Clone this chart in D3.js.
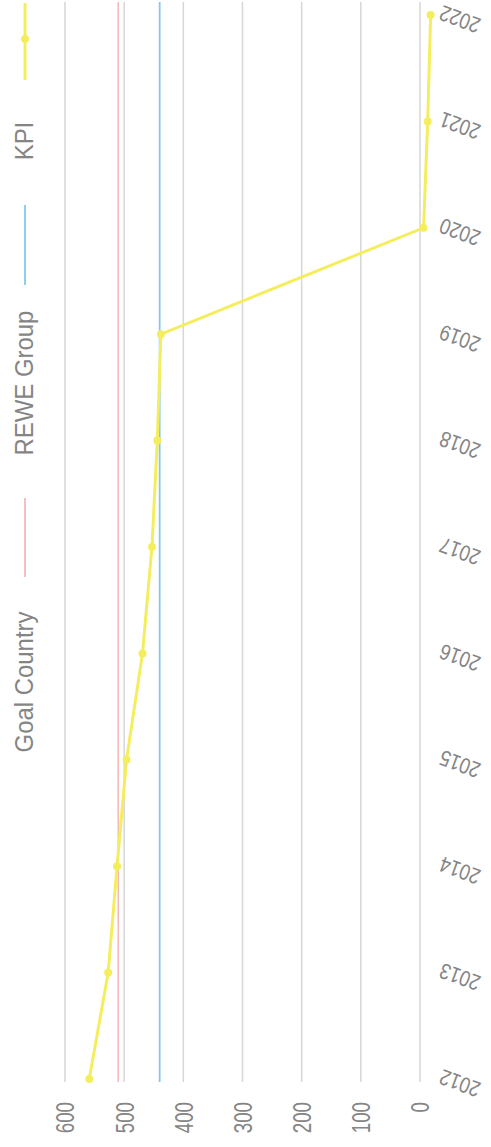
<!DOCTYPE html>
<html>
<head>
<meta charset="utf-8">
<script src="https://cdn.jsdelivr.net/npm/d3@7"></script>
<style>
  html, body { margin: 0; padding: 0; background: #fff; }
  svg { display: block; }
  text { font-family: "Liberation Sans", Arial, sans-serif; fill: #858585; }
</style>
</head>
<body>
<script>
// chart data (the page is printed sideways, so years run bottom -> top)
var years = [2012, 2013, 2014, 2015, 2016, 2017, 2018, 2019, 2020, 2021, 2022];
var kpiValues = [559, 527, 512, 496, 469, 453, 444, 438, -6, -13, -18];
var reweGroupValue = 440;
var goalCountryValue = 510;
var valueTicks = [0, 100, 200, 300, 400, 500, 600];
var legendNames = ["KPI", "REWE Group", "Goal Country"];

var width = 491, height = 1147;
var colors = { kpi: "#f4ee5e", rewe: "#86c8ec", goal: "#f3b9b6" };

var svg = d3.select("body").append("svg")
    .attr("width", width)
    .attr("height", height);

var x = d3.scaleLinear().domain([0, 600]).range([420, 65]);
var y = d3.scalePoint().domain(years).range([1079, 15]);

var plotTop = 2, plotBottom = 1082;

// grid
svg.append("g").selectAll("line")
    .data(valueTicks)
    .enter().append("line")
    .attr("x1", function(d){ return x(d); })
    .attr("x2", function(d){ return x(d); })
    .attr("y1", plotTop)
    .attr("y2", plotBottom)
    .style("stroke", "#d6d6d6")
    .style("stroke-width", 1.5);

// value labels (condensed look -> squeeze along reading direction)
svg.append("g").selectAll("text")
    .data(valueTicks)
    .enter().append("text")
    .attr("transform", function(d){ return "translate(" + x(d) + ",1102) rotate(-90) scale(0.72,1)"; })
    .attr("text-anchor", "end")
    .attr("dy", "0.36em")
    .style("font-size", "26px")
    .text(function(d){ return d; });

// year labels (upside down, slanted)
svg.append("g").selectAll("text")
    .data(years)
    .enter().append("text")
    .attr("transform", function(d){ return "translate(443," + (y(d) - 10) + ") rotate(200) scale(0.85,1)"; })
    .attr("text-anchor", "end")
    .style("font-size", "22px")
    .text(function(d){ return d; });

// reference lines
svg.append("line")
    .attr("x1", x(goalCountryValue)).attr("x2", x(goalCountryValue))
    .attr("y1", plotTop).attr("y2", plotBottom)
    .style("stroke", colors.goal).style("stroke-width", 1.5);

svg.append("line")
    .attr("x1", x(reweGroupValue)).attr("x2", x(reweGroupValue))
    .attr("y1", plotTop).attr("y2", plotBottom)
    .style("stroke", colors.rewe).style("stroke-width", 1.8);

// KPI line
var kpiData = years.map(function(yr, i){ return { year: yr, value: kpiValues[i] }; });
var line = d3.line()
    .x(function(d){ return x(d.value); })
    .y(function(d){ return y(d.year); });

svg.append("path")
    .datum(kpiData)
    .attr("d", line)
    .style("fill", "none")
    .style("stroke", colors.kpi)
    .style("stroke-width", 3);

svg.append("g").selectAll("circle")
    .data(kpiData)
    .enter().append("circle")
    .attr("cx", function(d){ return x(d.value); })
    .attr("cy", function(d){ return y(d.year); })
    .attr("r", 4)
    .style("fill", colors.kpi);

// legend (top to bottom: KPI, REWE Group, Goal Country)
var legendSymbols = [
    { y1: 3, y2: 80, color: colors.kpi, dot: 39 },
    { y1: 205, y2: 285, color: colors.rewe },
    { y1: 498, y2: 577, color: colors.goal }
];
var legendText = [141, 383, 682];

var lg = svg.append("g");
legendSymbols.forEach(function(s, i){
    lg.append("line")
        .attr("x1", 25).attr("x2", 25)
        .attr("y1", s.y1).attr("y2", s.y2)
        .style("stroke", s.color)
        .style("stroke-width", i == 0 ? 3 : 1.8);
    if (s.dot) {
        lg.append("circle").attr("cx", 25).attr("cy", s.dot).attr("r", 4).style("fill", s.color);
    }
    lg.append("text")
        .attr("transform", "translate(33," + legendText[i] + ") rotate(-90) scale(0.92,1)")
        .attr("text-anchor", "middle")
        .style("font-size", "26px")
        .text(legendNames[i]);
});
</script>
</body>
</html>
